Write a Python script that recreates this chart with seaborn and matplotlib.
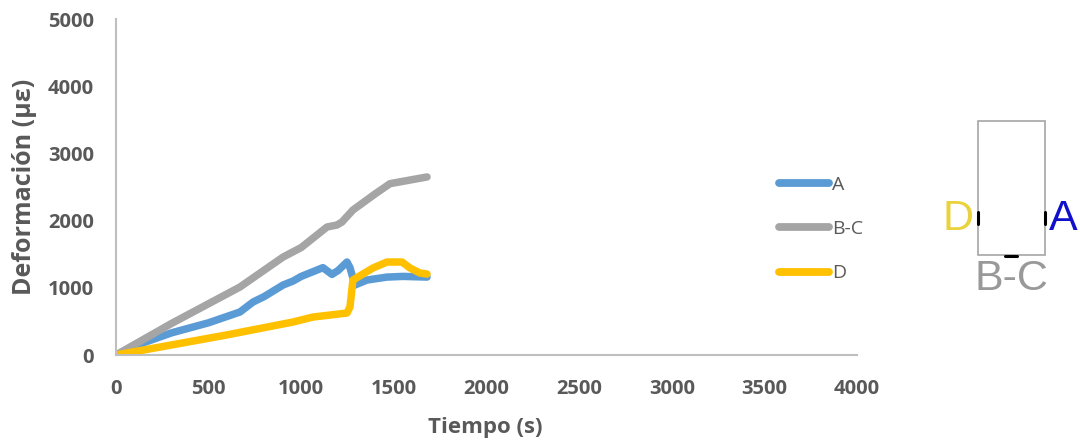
import numpy as np
import pandas as pd
import matplotlib
matplotlib.use("Agg")
import matplotlib.pyplot as plt
import seaborn as sns
from matplotlib.patches import Rectangle
from matplotlib.lines import Line2D

# Strain readings per gauge (time in s, strain in microstrain)
time_a = [0, 146, 300, 500, 669, 740, 800, 902, 955, 1000, 1117, 1166, 1200, 1247, 1263, 1290, 1355, 1463, 1550, 1679]
strain_a = [0, 180, 330, 480, 640, 789, 870, 1042, 1100, 1170, 1300, 1200, 1260, 1384, 1300, 1042, 1116, 1160, 1170, 1160]

time_bc = [0, 300, 669, 902, 1000, 1139, 1193, 1220, 1279, 1400, 1479, 1679]
strain_bc = [0, 470, 1012, 1458, 1600, 1905, 1935, 1980, 2158, 2400, 2550, 2650]

time_d = [0, 300, 600, 955, 1063, 1247, 1263, 1279, 1387, 1463, 1544, 1587, 1641, 1679]
strain_d = [0, 150, 300, 491, 565, 625, 714, 1116, 1295, 1384, 1384, 1295, 1220, 1205]

series_names = ["A", "B-C", "D"]
series_colors = ["#5B9BD5", "#A5A5A5", "#FFC000"]

x_ticks = [0, 500, 1000, 1500, 2000, 2500, 3000, 3500, 4000]
y_ticks = [0, 1000, 2000, 3000, 4000, 5000]

frames = []
for name, t, s in zip(series_names, [time_a, time_bc, time_d], [strain_a, strain_bc, strain_d]):
    frames.append(pd.DataFrame({"Tiempo": t, "Deformacion": s, "Galga": name}))
df = pd.concat(frames, ignore_index=True)

sns.set_theme(style="white")
plt.rcParams["font.family"] = ["Open Sans", "DejaVu Sans"]

fig = plt.figure(figsize=(10.8, 4.43), dpi=100)
ax = fig.add_axes([0.1074, 0.1986, 0.6861, 0.7584])

sns.lineplot(data=df, x="Tiempo", y="Deformacion", hue="Galga",
             palette=dict(zip(series_names, series_colors)),
             estimator=None, sort=False, linewidth=5.4, ax=ax, legend=False)
for ln in ax.get_lines():
    ln.set_solid_capstyle("round")
    ln.set_solid_joinstyle("round")

ax.set_xlim(0, 4000)
ax.set_ylim(0, 5000)
ax.set_xticks(x_ticks)
ax.set_yticks(y_ticks)
ax.tick_params(axis="both", length=0, labelsize=14.5, labelcolor="#595959")
ax.tick_params(axis="x", pad=17)
ax.tick_params(axis="y", pad=16)
for lab in ax.get_xticklabels() + ax.get_yticklabels():
    lab.set_fontweight("bold")
ax.set_xlabel("Tiempo (s)", fontsize=16, fontweight="bold", color="#595959", va="center")
ax.set_ylabel("Deformación (με)", fontsize=18, fontweight="bold", color="#595959", va="center")
ax.xaxis.set_label_coords(0.498, -0.217)
ax.yaxis.set_label_coords(-0.124, 0.5)
for side in ["top", "right"]:
    ax.spines[side].set_visible(False)
for side in ["left", "bottom"]:
    ax.spines[side].set_color("#BFBFBF")
    ax.spines[side].set_linewidth(1.5)
ax.grid(False)

# Legend
handles = [Line2D([0], [0], color=c, lw=5.6, solid_capstyle="round") for c in series_colors]
fig.legend(handles, series_names, loc="center left", bbox_to_anchor=(0.705, 0.483),
           frameon=False, fontsize=14, handlelength=2.6, handletextpad=0.15,
           labelspacing=1.36, labelcolor="#595959")

# Gauge layout sketch
W, H = 1080, 443
def fx(px):
    return px / W
def fy(py):
    return 1 - py / H

fig.patches.append(Rectangle((fx(978), fy(255)), fx(1045) - fx(978), fy(121) - fy(255),
                             transform=fig.transFigure, fill=False,
                             edgecolor="#A6A6A6", linewidth=1.2))
fig.add_artist(Line2D([fx(978), fx(978)], [fy(212), fy(224)], color="black", lw=2.2,
                      transform=fig.transFigure))
fig.add_artist(Line2D([fx(1045), fx(1045)], [fy(212), fy(224)], color="black", lw=2.2,
                      transform=fig.transFigure))
fig.add_artist(Line2D([fx(1005), fx(1017)], [fy(256), fy(256)], color="black", lw=2.2,
                      transform=fig.transFigure))
label_font = ["Liberation Sans", "DejaVu Sans"]
fig.text(fx(958), fy(219), "D", color="#EAD23C", fontsize=31, ha="center", va="center",
         family=label_font)
fig.text(fx(1063), fy(219), "A", color="#1010CC", fontsize=31, ha="center", va="center",
         family=label_font)
fig.text(fx(1011), fy(279), "B-C", color="#999999", fontsize=31, ha="center", va="center",
         family=label_font)

fig.savefig("out.png", dpi=100)
